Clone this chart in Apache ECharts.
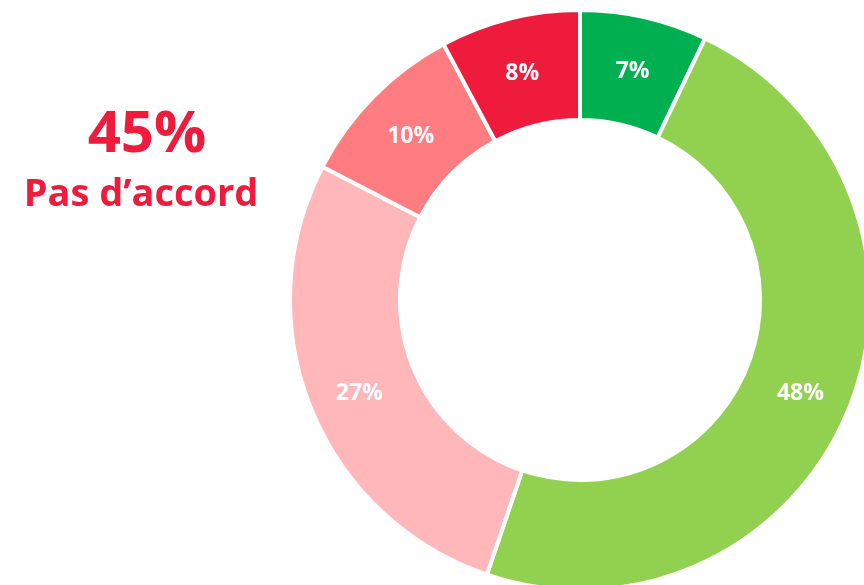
<!DOCTYPE html>
<html>
<head>
<meta charset="utf-8">
<script src="https://cdn.jsdelivr.net/npm/echarts@6/dist/echarts.min.js"></script>
<style>
  html, body { margin: 0; padding: 0; background: #fff; }
  #container { width: 864px; height: 585px; }
</style>
</head>
<body>
<div id="container"></div>
<script>
var categories = ['Tout à fait d’accord', 'Plutôt d’accord', 'Plutôt pas d’accord', 'Pas du tout d’accord', 'Ne sait pas'];
var values = [7.1, 48.1, 27.4, 9.6, 7.8];
var labels = ['7%', '48%', '27%', '10%', '8%'];
var colors = ['#00b050', '#92d050', '#ffb7b9', '#ff7c80', '#ee1b3c'];
var bigValue = '45%';
var bigLabel = 'Pas d’accord';

var dom = document.getElementById('container');
var myChart = echarts.init(dom);

var seriesData = values.map(function (v, i) {
    return { name: categories[i], value: v, itemStyle: { color: colors[i] } };
});

var option = {
    animation: false,
    title: [
        {
            text: bigValue,
            left: 142, top: 101, textAlign: 'center',
            textStyle: { color: '#ee1b3c', fontSize: 58, fontWeight: 'bold', fontFamily: 'Open Sans' }
        },
        {
            text: bigLabel,
            left: 136, top: 171, textAlign: 'center',
            textStyle: { color: '#ee1b3c', fontSize: 38, fontWeight: 'bold', fontFamily: 'Open Sans' }
        }
    ],
    series: [
        {
            type: 'pie',
            center: [580, 300],
            radius: [180, 290],
            startAngle: 90,
            clockwise: true,
            data: seriesData,
            itemStyle: { borderColor: '#fff', borderWidth: 4 },
            label: {
                position: 'inside',
                formatter: function (p) { return labels[p.dataIndex]; },
                color: '#fff',
                fontSize: 23,
                fontWeight: 'bold',
                fontFamily: 'Open Sans'
            },
            labelLayout: { dy: 4 },
            labelLine: { show: false },
            emphasis: { disabled: true }
        }
    ]
};

myChart.setOption(option, true);
</script>
</body>
</html>
